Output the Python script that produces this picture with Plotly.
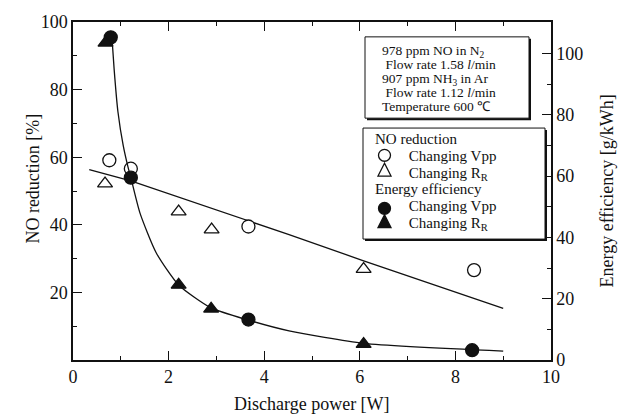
import plotly.graph_objects as go

# ---------------- data ----------------
# NO reduction [%] (left axis)
no_vpp_x = [0.76, 1.21, 3.67, 8.39]
no_vpp_y = [59.1, 56.6, 39.5, 26.6]
no_rr_x = [0.67, 2.21, 2.90, 6.08]
no_rr_y = [52.2, 43.9, 38.6, 26.9]
# Energy efficiency [g/kWh] (right axis)
ee_vpp_x = [0.79, 1.21, 3.67, 8.35]
ee_vpp_y = [105.3, 59.5, 13.2, 3.2]
ee_rr_x = [0.68, 2.21, 2.89, 6.08]
ee_rr_y = [103.5, 24.5, 16.7, 5.2]
# fitted lines as drawn in the reference
no_fit_x = [0.34, 1.21, 4.52, 6.05, 9.0]
no_fit_y = [56.3, 53.0, 37.1, 29.5, 15.3]
ee_fit_x = [0.82, 0.86, 0.94, 1.05, 1.15, 1.21, 1.40, 1.74, 2.21, 2.89, 3.67, 4.52, 6.08, 9.0]
ee_fit_y = [104.0, 95.0, 81.0, 70.0, 63.0, 59.5, 48.0, 35.0, 24.5, 17.0, 13.0, 9.5, 5.4, 2.9]

left_ticks = [20, 40, 60, 80, 100]
left_minor = [10, 30, 50, 70, 90]
right_ticks = [0, 20, 40, 60, 80, 100]
right_minor = [10, 30, 50, 70, 90]

info_lines = [
    "978 ppm NO in N<sub>2</sub>",
    "\u00a0Flow rate 1.58 <i>l</i>/min",
    "907 ppm NH<sub>3</sub> in Ar",
    "\u00a0Flow rate 1.12 <i>l</i>/min",
    "Temperature 600 ℃",
]
legend_groups = ["NO reduction", "Energy efficiency"]
legend_items = ["Changing Vpp", "Changing R<sub>R</sub>"]

FONT = "Liberation Serif, Times New Roman, serif"
INK = "#111111"

# plot area in pixels
L, R, T, B = 73, 551, 19, 360
W, H = 630, 419


def px(X):
    return (X - L) / (R - L)


def py(Y):
    return (B - Y) / (B - T)


def sized(t, s):
    return '<span style="font-size:%gpx">%s</span>' % (s, t)


fig = go.Figure()

fig.add_trace(go.Scatter(x=no_fit_x, y=no_fit_y, mode="lines",
                         line=dict(color=INK, width=1.3), showlegend=False, hoverinfo="skip"))
fig.add_trace(go.Scatter(x=ee_fit_x, y=ee_fit_y, mode="lines", yaxis="y2",
                         line=dict(color=INK, width=1.3, shape="spline", smoothing=0.6),
                         showlegend=False, hoverinfo="skip"))

mk = dict(size=13, line=dict(color=INK, width=1.3))
fig.add_trace(go.Scatter(x=no_vpp_x, y=no_vpp_y, mode="markers", name="NO reduction, Changing Vpp",
                         showlegend=False, marker=dict(symbol="circle", color="white", **mk)))
fig.add_trace(go.Scatter(x=no_rr_x, y=no_rr_y, mode="markers", name="NO reduction, Changing RR",
                         showlegend=False, marker=dict(symbol="triangle-up", color="white", **mk)))
fig.add_trace(go.Scatter(x=ee_vpp_x, y=ee_vpp_y, mode="markers", yaxis="y2",
                         name="Energy efficiency, Changing Vpp",
                         showlegend=False, marker=dict(symbol="circle", color=INK, **mk)))
fig.add_trace(go.Scatter(x=ee_rr_x, y=ee_rr_y, mode="markers", yaxis="y2",
                         name="Energy efficiency, Changing RR",
                         showlegend=False, marker=dict(symbol="triangle-up", color=INK, **mk)))

shapes = [
    # info box: shadow + box
    dict(type="rect", xref="paper", yref="paper", x0=px(367), x1=px(531), y0=py(118), y1=py(36),
         fillcolor=INK, line=dict(width=0), layer="above"),
    dict(type="rect", xref="paper", yref="paper", x0=px(365), x1=px(529), y0=py(116), y1=py(34),
         fillcolor="white", line=dict(color=INK, width=1), layer="above"),
    # legend box: shadow + box
    dict(type="rect", xref="paper", yref="paper", x0=px(365), x1=px(547), y0=py(240), y1=py(128),
         fillcolor=INK, line=dict(width=0), layer="above"),
    dict(type="rect", xref="paper", yref="paper", x0=px(363), x1=px(545), y0=py(238), y1=py(126),
         fillcolor="white", line=dict(color=INK, width=1), layer="above"),
]


def circle_glyph(X, Y, r, fill):
    return dict(type="circle", xref="paper", yref="paper",
                x0=px(X - r), x1=px(X + r), y0=py(Y + r), y1=py(Y - r),
                fillcolor=fill, line=dict(color=INK, width=1.3), layer="above")


def tri_glyph(X, Y, s, fill):
    p = "M %f,%f L %f,%f L %f,%f Z" % (px(X), py(Y - s * 0.62), px(X - s / 2), py(Y + s * 0.38),
                                         px(X + s / 2), py(Y + s * 0.38))
    return dict(type="path", xref="paper", yref="paper", path=p,
                fillcolor=fill, line=dict(color=INK, width=1.3), layer="above")


gx = 384.5
shapes += [
    circle_glyph(gx, 153.5, 6, "white"),
    tri_glyph(gx, 169.5, 13, "white"),
    circle_glyph(gx, 207.0, 6, INK),
    tri_glyph(gx, 221.5, 13, INK),
]

annotations = []
info_text = "<br>".join(sized(t, 13.5) for t in info_lines)
annotations.append(dict(text=info_text, xref="paper", yref="paper", x=px(379.5), y=py(76),
                        xanchor="left", yanchor="middle", align="left", showarrow=False,
                        font=dict(family=FONT, size=10.7, color=INK)))

ind = "\u00a0" * 9
leg_lines = []
for g in legend_groups:
    leg_lines.append(g)
    for it in legend_items:
        leg_lines.append(ind + it)
legend_text = "<br>".join(sized(t, 15) for t in leg_lines)
annotations.append(dict(text=legend_text, xref="paper", yref="paper", x=px(372.5), y=py(180),
                        xanchor="left", yanchor="middle", align="left", showarrow=False,
                        font=dict(family=FONT, size=12.9, color=INK)))

title_font = dict(family=FONT, size=18, color=INK)
annotations += [
    dict(text="NO reduction [%]", xref="paper", yref="paper", x=px(33), y=py(177),
         textangle=-90, showarrow=False, xanchor="center", yanchor="middle", font=title_font),
    dict(text="Energy efficiency [g/kWh]", xref="paper", yref="paper", x=px(607), y=py(190),
         textangle=-90, showarrow=False, xanchor="center", yanchor="middle", font=title_font),
    dict(text="Discharge power [W]", xref="paper", yref="paper", x=px(312), y=py(404),
         showarrow=False, xanchor="center", yanchor="middle", font=title_font),
]

axis_common = dict(showline=True, linecolor=INK, linewidth=1.5, ticks="inside", ticklen=9,
                   tickwidth=1.2, tickcolor=INK, showgrid=False, zeroline=False,
                   tickfont=dict(family=FONT, size=18, color=INK))

fig.update_layout(
    width=W, height=H,
    margin=dict(l=L, r=W - R, t=T, b=H - B),
    paper_bgcolor="white", plot_bgcolor="white",
    font=dict(family=FONT, color=INK),
    showlegend=False,
    xaxis=dict(range=[0, 10], tickvals=[0, 2, 4, 6, 8, 10], mirror="ticks",
               minor=dict(ticks="inside", ticklen=4, tickcolor=INK, tickvals=[1, 3, 5, 7, 9]),
               **axis_common),
    yaxis=dict(range=[0, 100], tickvals=left_ticks,
               minor=dict(ticks="inside", ticklen=4, tickcolor=INK, tickvals=left_minor),
               **axis_common),
    yaxis2=dict(range=[0, 110.3], tickvals=right_ticks, overlaying="y", side="right",
                minor=dict(ticks="inside", ticklen=4, tickcolor=INK, tickvals=right_minor),
                **axis_common),
    shapes=shapes,
    annotations=annotations,
)

fig.write_html("out.html")
